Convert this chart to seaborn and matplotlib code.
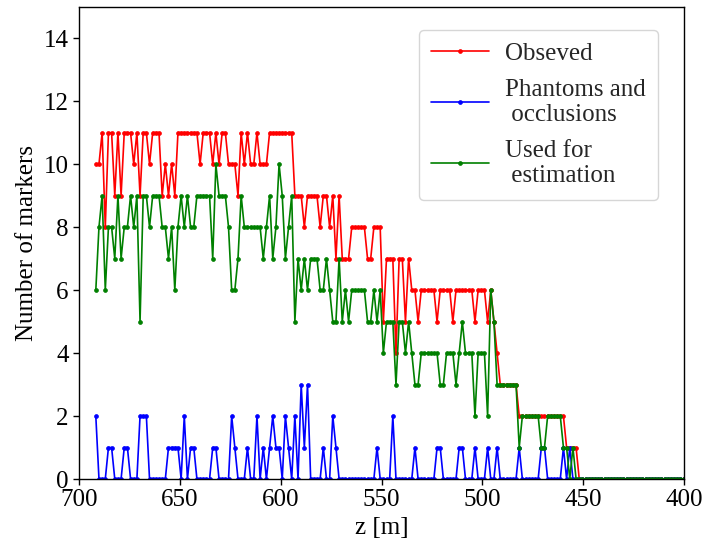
import numpy as np
import matplotlib
matplotlib.use("Agg")
import matplotlib.pyplot as plt
import seaborn as sns

# Depth samples along the track (regular grid)
z_first, z_last, n_samples = 691.7, 400.3, 187
z = np.linspace(z_first, z_last, n_samples)

observed = [
    10, 10, 11, 8, 11, 11, 9, 11, 9, 11,
    11, 11, 10, 11, 9, 11, 11, 10, 11, 11,
    11, 9, 10, 9, 10, 9, 11, 11, 11, 11,
    11, 11, 11, 10, 11, 11, 11, 10, 11, 10,
    11, 11, 10, 10, 10, 9, 11, 10, 11, 10,
    10, 11, 10, 10, 10, 11, 11, 11, 11, 11,
    11, 11, 11, 9, 9, 9, 8, 9, 9, 9,
    9, 8, 9, 9, 8, 9, 7, 9, 7, 7,
    7, 8, 8, 8, 8, 8, 7, 7, 8, 8,
    8, 5, 7, 7, 7, 4, 7, 7, 5, 7,
    6, 6, 5, 6, 6, 6, 6, 6, 5, 6,
    6, 6, 6, 5, 6, 6, 6, 6, 6, 6,
    5, 6, 6, 6, 5, 6, 5, 4, 3, 3,
    3, 3, 3, 3, 2, 2, 2, 2, 2, 2,
    2, 2, 2, 2, 2, 2, 2, 2, 2, 1,
    1, 1, 1, 0, 0, 0, 0, 0, 0, 0,
    0, 0, 0, 0, 0, 0, 0, 0, 0, 0,
    0, 0, 0, 0, 0, 0, 0, 0, 0, 0,
    0, 0, 0, 0, 0, 0, 0,
]

phantoms = [
    2, 0, 0, 0, 1, 1, 0, 0, 0, 1,
    1, 0, 0, 0, 2, 2, 2, 0, 0, 0,
    0, 0, 0, 1, 1, 1, 1, 0, 2, 0,
    1, 1, 0, 0, 0, 0, 0, 1, 1, 0,
    0, 0, 0, 2, 1, 0, 0, 0, 1, 0,
    0, 2, 0, 1, 0, 1, 2, 1, 1, 0,
    2, 1, 0, 2, 0, 3, 1, 3, 0, 0,
    0, 0, 1, 0, 0, 2, 1, 0, 0, 0,
    0, 0, 0, 0, 0, 0, 0, 0, 0, 1,
    0, 0, 0, 0, 2, 0, 0, 0, 0, 0,
    0, 1, 0, 0, 0, 0, 0, 0, 1, 1,
    0, 0, 0, 0, 0, 1, 1, 0, 0, 0,
    1, 0, 0, 0, 1, 0, 0, 1, 0, 0,
    0, 0, 0, 0, 1, 0, 0, 0, 0, 0,
    0, 1, 1, 0, 0, 0, 0, 0, 1, 0,
    1, 0, 0, 0, 0, 0, 0, 0, 0, 0,
    0, 0, 0, 0, 0, 0, 0, 0, 0, 0,
    0, 0, 0, 0, 0, 0, 0, 0, 0, 0,
    0, 0, 0, 0, 0, 0, 0,
]

used = [
    6, 8, 9, 6, 8, 8, 7, 9, 7, 8,
    8, 9, 8, 9, 5, 9, 9, 8, 9, 9,
    9, 8, 8, 7, 8, 6, 8, 9, 8, 9,
    8, 8, 9, 9, 9, 9, 9, 7, 10, 9,
    9, 9, 8, 6, 6, 7, 9, 8, 8, 8,
    8, 8, 8, 7, 8, 9, 7, 8, 10, 9,
    7, 8, 9, 5, 7, 6, 7, 6, 7, 7,
    7, 6, 6, 7, 6, 5, 5, 7, 5, 6,
    5, 6, 6, 6, 6, 6, 5, 5, 6, 5,
    6, 4, 5, 5, 5, 3, 5, 5, 4, 5,
    4, 3, 3, 4, 4, 4, 4, 4, 4, 3,
    3, 4, 4, 4, 3, 4, 5, 4, 4, 4,
    2, 4, 4, 4, 2, 6, 5, 3, 3, 3,
    3, 3, 3, 3, 1, 2, 2, 2, 2, 2,
    2, 1, 1, 2, 2, 2, 2, 2, 1, 1,
    0, 1, 0, 0, 0, 0, 0, 0, 0, 0,
    0, 0, 0, 0, 0, 0, 0, 0, 0, 0,
    0, 0, 0, 0, 0, 0, 0, 0, 0, 0,
    0, 0, 0, 0, 0, 0, 0,
]

x_ticks = [700, 650, 600, 550, 500, 450, 400]
y_ticks = [0, 2, 4, 6, 8, 10, 12, 14]

FS = 18

sns.set_theme(style="ticks")
plt.rcParams["font.family"] = ["Liberation Serif", "DejaVu Serif"]
plt.rcParams["font.size"] = FS
plt.rcParams["axes.linewidth"] = 1.0

fig = plt.figure(figsize=(7.06, 5.46), dpi=100)
ax = fig.add_axes([0.112, 0.1227, 0.857, 0.865])

series = [
    (observed, "red", "Obseved"),
    (phantoms, "blue", "Phantoms and\n occlusions"),
    (used, "green", "Used for\n estimation"),
]
for values, color, label in series:
    sns.lineplot(
        x=z, y=values, ax=ax, color=color, label=label,
        linewidth=1.2, marker="o", markersize=2.8,
        markeredgecolor=color, markeredgewidth=0.5,
    )

ax.set_xlim(700, 400)
ax.set_ylim(0, 15)
ax.set_xticks(x_ticks)
ax.set_yticks(y_ticks)
ax.tick_params(labelsize=FS, colors="black", length=4, width=1)
for side in ["top", "right", "left", "bottom"]:
    ax.spines[side].set_visible(True)
    ax.spines[side].set_color("black")
ax.set_xlabel("z [m]", fontsize=FS, color="black")
ax.set_ylabel("Number of markers", fontsize=FS, color="black")

ax.legend(
    loc="upper right", bbox_to_anchor=(0.957, 0.951), borderaxespad=0,
    fontsize=FS, handlelength=2.3, handletextpad=0.65, labelspacing=0.55,
    borderpad=0.5, frameon=True,
)

fig.savefig("out.png", dpi=100)
